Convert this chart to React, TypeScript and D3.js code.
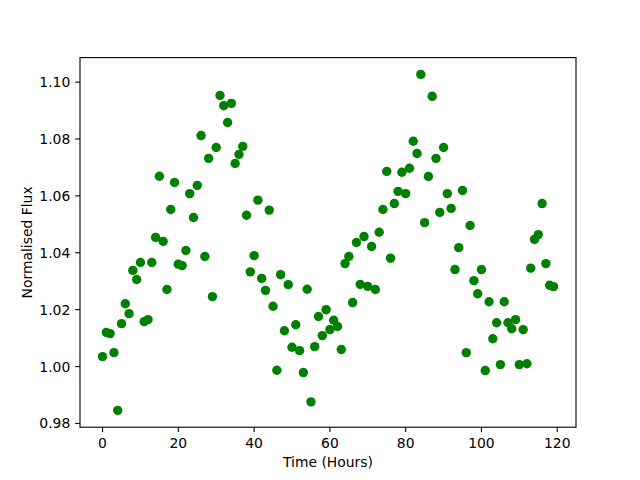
import React from "react";
import * as d3 from "d3";

const hours: number[] = [
  0, 1, 2, 3, 4, 5, 6, 7, 8, 9, 10, 11, 12, 13, 14, 15, 16, 17, 18, 19,
  20, 21, 22, 23, 24, 25, 26, 27, 28, 29, 30, 31, 32, 33, 34, 35, 36, 37, 38, 39,
  40, 41, 42, 43, 44, 45, 46, 47, 48, 49, 50, 51, 52, 53, 54, 55, 56, 57, 58, 59,
  60, 61, 62, 63, 64, 65, 66, 67, 68, 69, 70, 71, 72, 73, 74, 75, 76, 77, 78, 79,
  80, 81, 82, 83, 84, 85, 86, 87, 88, 89, 90, 91, 92, 93, 94, 95, 96, 97, 98, 99,
  100, 101, 102, 103, 104, 105, 106, 107, 108, 109, 110, 111, 112, 113, 114, 115, 116, 117, 118, 119,
];

const flux: number[] = [
  1.0035, 1.012, 1.0116, 1.0049, 0.9846, 1.0151, 1.0221, 1.0186, 1.0338, 1.0306,
  1.0366, 1.0158, 1.0165, 1.0366, 1.0454, 1.0669, 1.044, 1.0271, 1.0552, 1.0647,
  1.036, 1.0355, 1.0408, 1.0608, 1.0524, 1.0637, 1.0812, 1.0387, 1.0732, 1.0246,
  1.077, 1.0953, 1.0917, 1.0858, 1.0925, 1.0714, 1.0746, 1.0774, 1.0532, 1.0333,
  1.039, 1.0585, 1.031, 1.0268, 1.055, 1.0212, 0.9987, 1.0323, 1.0126, 1.0288,
  1.0068, 1.0147, 1.0056, 0.9979, 1.0272, 0.9876, 1.007, 1.0176, 1.0109, 1.02,
  1.013, 1.0163, 1.0141, 1.006, 1.0362, 1.0387, 1.0225, 1.0436, 1.0289, 1.0457,
  1.0282, 1.0422, 1.0271, 1.0472, 1.0552, 1.0686, 1.0381, 1.0573, 1.0616, 1.0683,
  1.0608, 1.0697, 1.0792, 1.0749, 1.1027, 1.0506, 1.0668, 1.095, 1.0732, 1.0542,
  1.077, 1.0608, 1.0556, 1.0341, 1.0418, 1.0619, 1.0049, 1.0496, 1.0302, 1.0256,
  1.0341, 0.9986, 1.0228, 1.0098, 1.0154, 1.0007, 1.0228, 1.0154, 1.0133, 1.0165,
  1.0007, 1.013, 1.001, 1.0346, 1.0447, 1.0464, 1.0573, 1.0362, 1.0286, 1.0281,
];

const xTicks: number[] = [0, 20, 40, 60, 80, 100, 120];
const yTicks: number[] = [0.98, 1.0, 1.02, 1.04, 1.06, 1.08, 1.1];
const xLabel = "Time (Hours)";
const yLabel = "Normalised Flux";

const W = 640;
const H = 480;
const left = 80;
const right = 576;
const top = 57.6;
const bottom = 427.2;

function pad(ext: [number, number]): [number, number] {
  const r = ext[1] - ext[0];
  return [ext[0] - 0.05 * r, ext[1] + 0.05 * r];
}

export default function App() {
  const x = d3.scaleLinear().domain(pad(d3.extent(hours) as [number, number])).range([left, right]);
  const y = d3.scaleLinear().domain(pad(d3.extent(flux) as [number, number])).range([bottom, top]);
  const font = "DejaVu Sans, sans-serif";
  const fs = 13.9;
  const tl = 4.86;
  const fmt = d3.format(".2f");
  return (
    <svg
      width={W}
      height={H}
      style={{ position: "absolute", left: 0, top: 0, display: "block", background: "#fff" }}
    >
      <rect x={0} y={0} width={W} height={H} fill="#fff" />
      {hours.map((h, i) => (
        <circle key={i} cx={x(h)} cy={y(flux[i])} r={4.7} fill="#008000" />
      ))}
      <rect x={left} y={top} width={right - left} height={bottom - top} fill="none" stroke="#000" strokeWidth={1.1} />
      {xTicks.map((t) => (
        <g key={"x" + t}>
          <line x1={x(t)} x2={x(t)} y1={bottom} y2={bottom + tl} stroke="#000" strokeWidth={1.1} />
          <text x={x(t)} y={448} textAnchor="middle" fontFamily={font} fontSize={fs} fill="#000">
            {t}
          </text>
        </g>
      ))}
      {yTicks.map((t) => (
        <g key={"y" + t}>
          <line x1={left - tl} x2={left} y1={y(t)} y2={y(t)} stroke="#000" strokeWidth={1.1} />
          <text x={left - 2 * tl} y={y(t) + 5} textAnchor="end" fontFamily={font} fontSize={fs} fill="#000">
            {fmt(t)}
          </text>
        </g>
      ))}
      <text x={(left + right) / 2} y={467} textAnchor="middle" fontFamily={font} fontSize={fs} fill="#000">
        {xLabel}
      </text>
      <text
        transform={`translate(31.5, ${(top + bottom) / 2}) rotate(-90)`}
        textAnchor="middle"
        fontFamily={font}
        fontSize={fs}
        fill="#000"
      >
        {yLabel}
      </text>
    </svg>
  );
}
